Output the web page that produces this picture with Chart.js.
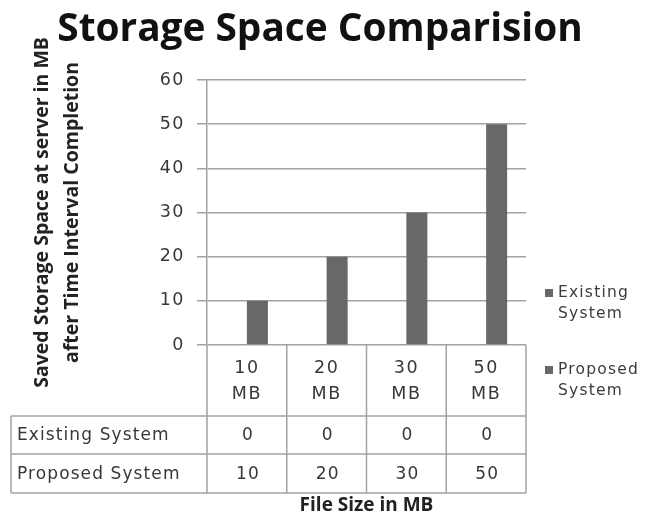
<!DOCTYPE html>
<html>
<head>
<meta charset="utf-8">
<title>Storage Space Comparision</title>
<script src="https://cdn.jsdelivr.net/npm/chart.js@4.4.1/dist/chart.umd.min.js"></script>
<style>
  html, body { margin: 0; padding: 0; background: #ffffff; }
  canvas { display: block; }
</style>
</head>
<body>
<canvas id="chart" width="656" height="519"></canvas>
<script>
// ---- data ----
const categories = [['10', 'MB'], ['20', 'MB'], ['30', 'MB'], ['50', 'MB']];
const seriesNames = ['Existing System', 'Proposed System'];
const existingValues = [0, 0, 0, 0];
const proposedValues = [10, 20, 30, 50];
const yTickValues = [0, 10, 20, 30, 40, 50, 60];

// ---- styles ----
const GRID = '#a2a2a2';
const TEXT = '#383838';
const BAR = '#686868';
const TICK_FONT = { family: 'DejaVu Sans', size: 17.5 };

// tick labels are drawn after the bars (ticks.z = 1); give them wider spacing
const tickSpacing = {
  id: 'tickSpacing',
  beforeDraw(chart) { chart.ctx.letterSpacing = '0px'; },
  afterDatasetsDraw(chart) { chart.ctx.letterSpacing = '1.5px'; },
  afterDraw(chart) { chart.ctx.letterSpacing = '0px'; }
};

// data table drawn under the category axis
const dataTable = {
  id: 'dataTable',
  afterDraw(chart) {
    const { ctx, chartArea, scales: { x } } = chart;
    const top = chartArea.bottom;
    const headerBottom = top + 71;
    const rowBottoms = [headerBottom + 38, headerBottom + 77];
    const tableLeft = 11;
    const half = (x.getPixelForValue(1) - x.getPixelForValue(0)) / 2;
    const edges = categories.map((_, i) => x.getPixelForValue(i) - half);
    edges.push(x.getPixelForValue(categories.length - 1) + half);
    const tableRight = edges[edges.length - 1];
    const tableBottom = rowBottoms[1];

    ctx.save();
    ctx.strokeStyle = GRID;
    ctx.lineWidth = 1.5;
    ctx.beginPath();
    edges.forEach(ex => { ctx.moveTo(ex, top); ctx.lineTo(ex, tableBottom); });
    [headerBottom, ...rowBottoms].forEach(yy => { ctx.moveTo(tableLeft, yy); ctx.lineTo(tableRight, yy); });
    ctx.moveTo(tableLeft, headerBottom); ctx.lineTo(tableLeft, tableBottom);
    ctx.stroke();

    ctx.fillStyle = TEXT;
    ctx.font = '17px "DejaVu Sans"';
    ctx.letterSpacing = '1.1px';
    ctx.textBaseline = 'middle';
    const rows = [existingValues, proposedValues];
    const rowTops = [headerBottom, rowBottoms[0]];
    rows.forEach((vals, r) => {
      const cy = (rowTops[r] + rowBottoms[r]) / 2 + 1;
      ctx.textAlign = 'left';
      ctx.fillText(seriesNames[r], tableLeft + 6, cy);
      ctx.textAlign = 'center';
      vals.forEach((v, i) => ctx.fillText(String(v), x.getPixelForValue(i) + 1, cy));
    });
    ctx.restore();
  }
};

// legend with wrapped series names, right of the plot
const sideLegend = {
  id: 'sideLegend',
  afterDraw(chart) {
    const { ctx, chartArea } = chart;
    const lx = chartArea.right + 19;
    const firstY = 293;
    const gap = 77;
    ctx.save();
    ctx.font = '15.5px "DejaVu Sans"';
    ctx.letterSpacing = '1.2px';
    ctx.textBaseline = 'middle';
    ctx.textAlign = 'left';
    chart.data.datasets.forEach((ds, i) => {
      const cy = firstY + i * gap;
      ctx.fillStyle = ds.backgroundColor;
      ctx.fillRect(lx, cy - 4, 8, 8);
      ctx.fillStyle = '#3c3c3c';
      const words = ds.label.split(' ');
      words.forEach((w, j) => ctx.fillText(w, lx + 13, cy + j * 21));
    });
    ctx.restore();
  }
};

new Chart(document.getElementById('chart'), {
  type: 'bar',
  data: {
    labels: categories,
    datasets: [
      { label: seriesNames[0], data: existingValues, backgroundColor: BAR, borderWidth: 0 },
      { label: seriesNames[1], data: proposedValues, backgroundColor: BAR, borderWidth: 0 }
    ]
  },
  options: {
    responsive: false,
    animation: false,
    events: [],
    layout: { padding: { left: 0, right: 16, top: 0, bottom: 0 } },
    datasets: { bar: { categoryPercentage: 0.527, barPercentage: 1.0 } },
    plugins: {
      legend: { display: false },
      tooltip: { enabled: false },
      title: {
        display: true,
        text: 'Storage Space Comparision',
        color: '#111111',
        font: { family: 'Open Sans', size: 38.8, weight: 'bold', lineHeight: 1.2 },
        padding: { top: 7, bottom: 26.4 }
      }
    },
    scales: {
      x: {
        grid: { display: false, drawTicks: false },
        border: { display: false },
        ticks: { z: 1, color: TEXT, font: { ...TICK_FONT, lineHeight: 1.5 }, padding: 10, maxRotation: 0 },
        title: {
          display: true,
          text: 'File Size in MB',
          color: '#222222',
          font: { family: 'Open Sans', size: 19, weight: 'bold', lineHeight: 1.2 },
          padding: { top: 0, bottom: 1.6 }
        },
        afterFit(scale) { scale.height = 174; }
      },
      y: {
        min: 0,
        max: 60,
        afterBuildTicks(scale) { scale.ticks = yTickValues.map(v => ({ value: v })); },
        grid: { color: GRID, lineWidth: 1.5, tickLength: 10, drawTicks: true },
        border: { display: true, color: GRID, width: 1.5 },
        ticks: { z: 1, color: TEXT, font: TICK_FONT, padding: 12 },
        title: {
          display: true,
          text: ['Saved Storage Space at server in MB', 'after Time Interval Completion'],
          color: '#222222',
          font: { family: 'Open Sans', size: 19.5, weight: 'bold', lineHeight: 1.54 },
          padding: { top: 27.5, bottom: 0 }
        },
        afterFit(scale) { scale.width = 207; }
      },
      legendSpace: {
        type: 'linear',
        position: 'right',
        display: true,
        grid: { display: false },
        border: { display: false },
        ticks: { display: false },
        afterFit(scale) { scale.width = 114; }
      }
    }
  },
  plugins: [tickSpacing, dataTable, sideLegend]
});
</script>
</body>
</html>
